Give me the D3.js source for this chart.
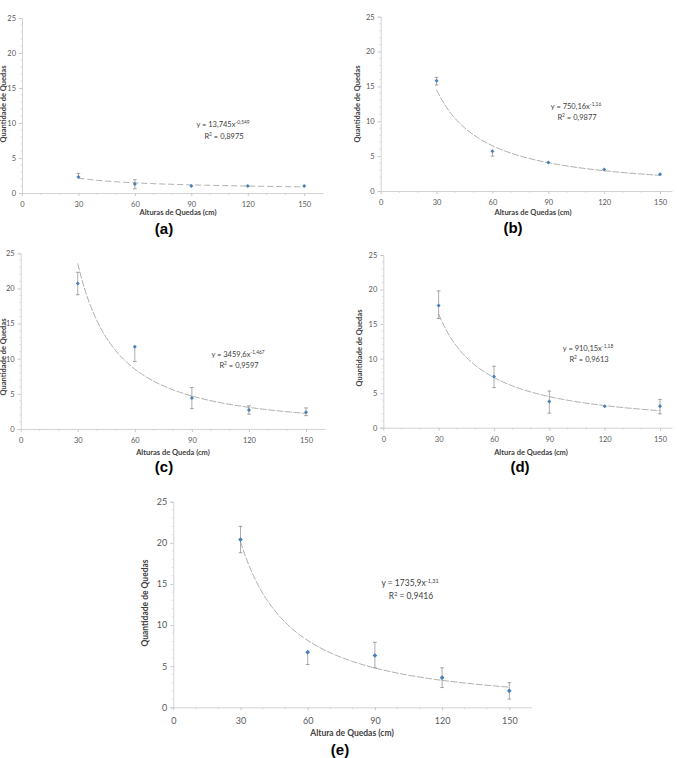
<!DOCTYPE html>
<html><head><meta charset="utf-8">
<script src="https://cdn.jsdelivr.net/npm/d3@7"></script>
<style>body{margin:0;background:#fff}svg{display:block}</style>
</head><body>
<svg id="c" width="677" height="758"></svg>
<script>
// ---- data ----
const heights = [30, 60, 90, 120, 150];
const xTicks = [0, 30, 60, 90, 120, 150];
const yTicks = [0, 5, 10, 15, 20, 25];

const meanA = [2.3, 1.3, 1.0, 1.0, 1.0];
const lowA  = [2.3, 0.6, 1.0, 1.0, 1.0];
const highA = [2.8, 1.9, 1.0, 1.0, 1.0];

const meanB = [15.8, 5.7, 4.1, 3.1, 2.4];
const lowB  = [15.2, 5.0, 4.1, 3.1, 2.4];
const highB = [16.3, 5.7, 4.1, 3.1, 2.4];

const meanC = [20.7, 11.7, 4.4, 2.7, 2.4];
const lowC  = [19.1, 9.6, 2.9, 2.1, 1.9];
const highC = [22.3, 11.7, 5.9, 3.3, 3.0];

const meanD = [17.7, 7.4, 3.8, 3.1, 3.1];
const lowD  = [15.8, 5.8, 2.1, 3.1, 2.0];
const highD = [19.8, 8.9, 5.3, 3.1, 4.1];

const meanE = [20.4, 6.7, 6.3, 3.6, 2.0];
const lowE  = [18.8, 5.2, 4.8, 2.4, 1.0];
const highE = [22.0, 6.7, 7.9, 4.8, 3.0];

// trend-line coefficients y = a * x^b
const coefA = [13.745, -0.549];
const coefB = [750.16, -1.16];
const coefC = [3459.6, -1.467];
const coefD = [910.15, -1.18];
const coefE = [1735.9, -1.31];

const eqA = ["13,745", "-0,549", "0,8975"];
const eqB = ["750,16", "-1,16", "0,9877"];
const eqC = ["3459,6", "-1,467", "0,9597"];
const eqD = ["910,15", "-1,18", "0,9613"];
const eqE = ["1735,9", "-1,31", "0,9416"];

const xTitles = ["Alturas de Quedas (cm)", "Alturas de Quedas (cm)", "Alturas de Queda (cm)", "Altura de Quedas (cm)", "Altura de Quedas (cm)"];
const yTitle = "Quantidade de Quedas";
const panelLabels = ["(a)", "(b)", "(c)", "(d)", "(e)"];

// ---- layout ----
const panels = [
  {mean: meanA, low: lowA, high: highA, coef: coefA, eq: eqA, x0: 22,    x1: 323,   dmax: 160,   yT: 18,    yB: 193,   tickY: 206.5, titleX: 178, titleY: 215,  lblX: 164, lblY: 234,   ytX: 6,   ytY: 104, eqX: 223, eqY: 127,  fs: 7.5, tfs: 7.5, efs: 7.5},
  {mean: meanB, low: lowB, high: highB, coef: coefB, eq: eqB, x0: 380.7, x1: 672,   dmax: 156.4, yT: 16.7,  yB: 191,   tickY: 204.5, titleX: 533, titleY: 215,  lblX: 513, lblY: 233,   ytX: 360, ytY: 104, eqX: 576, eqY: 108.5, fs: 7.5, tfs: 7.5, efs: 7.5},
  {mean: meanC, low: lowC, high: highC, coef: coefC, eq: eqC, x0: 20.7,  x1: 325,   dmax: 160,   yT: 253.3, yB: 429,   tickY: 442.5, titleX: 173, titleY: 454.5, lblX: 164, lblY: 472,  ytX: 6,   ytY: 357, eqX: 238, eqY: 356.5, fs: 7.5, tfs: 7.5, efs: 7.5},
  {mean: meanD, low: lowD, high: highD, coef: coefD, eq: eqD, x0: 383.3, x1: 672,   dmax: 156.5, yT: 255,   yB: 427.7, tickY: 442.5, titleX: 531, titleY: 455,  lblX: 520, lblY: 472,   ytX: 362, ytY: 348, eqX: 588, eqY: 350.5, fs: 7.5, tfs: 7.5, efs: 7.5},
  {mean: meanE, low: lowE, high: highE, coef: coefE, eq: eqE, x0: 173.3, x1: 531.7, dmax: 160,   yT: 501.7, yB: 707.3, tickY: 724.5, titleX: 352, titleY: 735.5, lblX: 340, lblY: 754.5, ytX: 148, ytY: 603, eqX: 410, eqY: 586, fs: 9, tfs: 8.5, efs: 8.5}
];

const svg = d3.select("#c");
const FONT = "Lato, 'Open Sans', sans-serif";
const axisCol = "#c8c8c8";

panels.forEach((p, i) => {
  const g = svg.append("g");
  const x = d3.scaleLinear().domain([0, p.dmax]).range([p.x0, p.x1]);
  const y = d3.scaleLinear().domain([0, 25]).range([p.yB, p.yT]);

  // y axis
  const ya = g.append("g").attr("transform", `translate(${p.x0},0)`)
    .call(d3.axisLeft(y).tickValues(yTicks).tickSize(3).tickPadding(3));
  ya.select(".domain").attr("stroke", axisCol).attr("stroke-width", 0.8);
  ya.selectAll(".tick line").attr("stroke", axisCol);
  ya.selectAll("text").attr("fill", "#595959").attr("font-size", p.fs).attr("font-family", FONT);
  const yMinor = d3.range(0, 26).filter(v => v % 5 !== 0);
  g.selectAll(".ymin").data(yMinor).enter().append("line")
    .attr("x1", p.x0 - 1.5).attr("x2", p.x0).attr("y1", d => y(d)).attr("y2", d => y(d))
    .attr("stroke", axisCol).attr("stroke-width", 0.6);

  // x axis
  const xa = g.append("g").attr("transform", `translate(0,${p.yB})`)
    .call(d3.axisBottom(x).tickValues(xTicks).tickSize(3).tickSizeOuter(0).tickPadding(4));
  xa.select(".domain").attr("stroke", axisCol).attr("stroke-width", 0.8);
  xa.selectAll(".tick line").attr("stroke", axisCol);
  xa.selectAll("text").attr("fill", "#595959").attr("font-size", p.fs).attr("font-family", FONT)
    .attr("dy", null).attr("y", p.tickY - p.yB);
  const xMinor = d3.range(10, p.dmax, 10).filter(v => v % 30 !== 0);
  g.selectAll(".xmin").data(xMinor).enter().append("line")
    .attr("x1", d => x(d)).attr("x2", d => x(d)).attr("y1", p.yB).attr("y2", p.yB + 2)
    .attr("stroke", axisCol).attr("stroke-width", 0.6);

  // trend line
  const xs = d3.range(30, 150.5, 1);
  const line = d3.line().x(d => x(d)).y(d => y(p.coef[0] * Math.pow(d, p.coef[1])));
  g.append("path").datum(xs).attr("d", line).attr("fill", "none")
    .attr("stroke", "#999").attr("stroke-width", 0.8).attr("stroke-dasharray", i === 0 ? "6,3" : "7,1.5");

  // error bars
  heights.forEach((h, k) => {
    if (p.high[k] - p.low[k] > 0.05) {
      const cx = x(h);
      g.append("line").attr("x1", cx).attr("x2", cx).attr("y1", y(p.low[k])).attr("y2", y(p.high[k]))
        .attr("stroke", "#8a8a8a").attr("stroke-width", 0.7);
      [p.low[k], p.high[k]].forEach(v => {
        if (Math.abs(v - p.mean[k]) > 0.05)
          g.append("line").attr("x1", cx - 1.8).attr("x2", cx + 1.8).attr("y1", y(v)).attr("y2", y(v))
            .attr("stroke", "#8a8a8a").attr("stroke-width", 0.8);
      });
    }
  });

  // markers
  g.selectAll(".pt").data(heights).enter().append("path")
    .attr("d", d3.symbol().type(d3.symbolSquare).size(p.fs > 8 ? 11 : 8))
    .attr("transform", (d, k) => `translate(${x(d)},${y(p.mean[k])}) rotate(45)`)
    .attr("fill", "#4a7ebb");

  // axis titles
  g.append("text").attr("x", p.titleX).attr("y", p.titleY).attr("text-anchor", "middle")
    .attr("font-family", FONT).attr("font-weight", "bold").attr("font-size", p.tfs).attr("fill", "#404040")
    .text(xTitles[i]);
  g.append("text").attr("transform", `translate(${p.ytX},${p.ytY}) rotate(-90)`).attr("text-anchor", "middle")
    .attr("font-family", FONT).attr("font-weight", "bold").attr("font-size", p.tfs).attr("fill", "#404040")
    .text(yTitle);

  // equation
  const e1 = g.append("text").attr("x", p.eqX).attr("y", p.eqY).attr("text-anchor", "middle")
    .attr("font-family", FONT).attr("font-size", p.efs).attr("fill", "#404040");
  e1.append("tspan").text(`y = ${p.eq[0]}x`);
  e1.append("tspan").attr("dy", -p.efs * 0.4).attr("font-size", p.efs * 0.65).text(p.eq[1]);
  const e2 = g.append("text").attr("x", p.eqX + 1).attr("y", p.eqY + p.efs * 1.55).attr("text-anchor", "middle")
    .attr("font-family", FONT).attr("font-size", p.efs).attr("fill", "#404040");
  e2.append("tspan").text("R");
  e2.append("tspan").attr("dy", -p.efs * 0.4).attr("font-size", p.efs * 0.65).text("2");
  e2.append("tspan").attr("dy", p.efs * 0.4).text(` = ${p.eq[2]}`);

  // panel label
  g.append("text").attr("x", p.lblX).attr("y", p.lblY).attr("text-anchor", "middle")
    .attr("font-family", "'Liberation Sans', Arial, sans-serif").attr("font-weight", "bold")
    .attr("font-size", 15).attr("fill", "#000").text(panelLabels[i]);
});
</script>
</body></html>
